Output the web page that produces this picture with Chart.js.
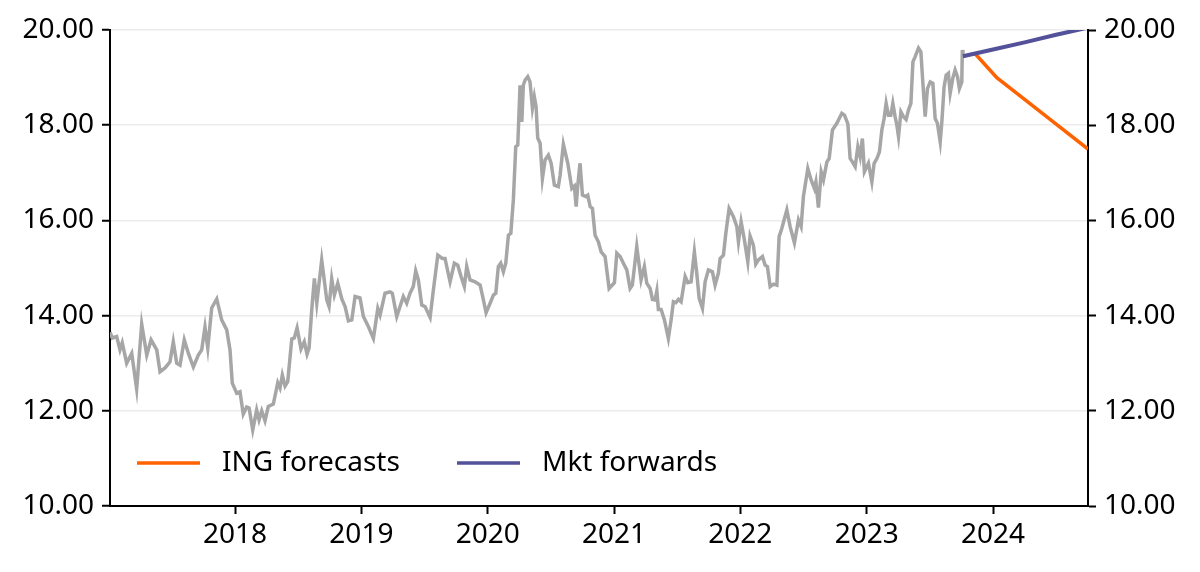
<!DOCTYPE html>
<html>
<head>
<meta charset="utf-8">
<script src="https://cdn.jsdelivr.net/npm/chart.js@4.4.1/dist/chart.umd.min.js"></script>
<style>
    html, body { margin: 0; padding: 0; background: #fff; }
    #wrap { width: 1200px; height: 572px; position: relative; }
</style>
</head>
<body>
<div id="wrap"><canvas id="myChart"></canvas></div>
<script>
// spot history, dates as decimal years
var spotDates = [
    2017.010, 2017.028, 2017.063, 2017.089, 2017.107, 2017.142, 2017.182, 2017.221, 2017.261, 2017.301,
    2017.335, 2017.380, 2017.406, 2017.446, 2017.485, 2017.511, 2017.538, 2017.564, 2017.598, 2017.630,
    2017.670, 2017.709, 2017.736, 2017.762, 2017.784, 2017.815, 2017.855, 2017.894, 2017.934, 2017.960,
    2017.978, 2018.013, 2018.039, 2018.065, 2018.092, 2018.111, 2018.140, 2018.171, 2018.190, 2018.211,
    2018.237, 2018.263, 2018.303, 2018.338, 2018.356, 2018.374, 2018.396, 2018.417, 2018.449, 2018.469,
    2018.491, 2018.522, 2018.548, 2018.570, 2018.586, 2018.607, 2018.628, 2018.647, 2018.686, 2018.726,
    2018.744, 2018.765, 2018.786, 2018.813, 2018.845, 2018.871, 2018.897, 2018.924, 2018.950, 2018.989,
    2019.016, 2019.055, 2019.095, 2019.130, 2019.148, 2019.187, 2019.227, 2019.245, 2019.280, 2019.306,
    2019.332, 2019.359, 2019.385, 2019.411, 2019.430, 2019.451, 2019.478, 2019.504, 2019.544, 2019.570,
    2019.605, 2019.641, 2019.662, 2019.702, 2019.736, 2019.763, 2019.789, 2019.815, 2019.834, 2019.860,
    2019.900, 2019.940, 2019.966, 2019.987, 2020.019, 2020.045, 2020.064, 2020.084, 2020.103, 2020.124,
    2020.143, 2020.164, 2020.183, 2020.203, 2020.222, 2020.238, 2020.256, 2020.270, 2020.282, 2020.296,
    2020.317, 2020.335, 2020.354, 2020.369, 2020.383, 2020.396, 2020.415, 2020.433, 2020.454, 2020.480,
    2020.502, 2020.528, 2020.559, 2020.573, 2020.599, 2020.634, 2020.666, 2020.686, 2020.700, 2020.713,
    2020.731, 2020.750, 2020.776, 2020.792, 2020.811, 2020.829, 2020.850, 2020.876, 2020.898, 2020.929,
    2020.961, 2021.003, 2021.022, 2021.048, 2021.074, 2021.101, 2021.127, 2021.145, 2021.180, 2021.214,
    2021.240, 2021.259, 2021.286, 2021.304, 2021.325, 2021.339, 2021.351, 2021.373, 2021.399, 2021.430,
    2021.452, 2021.470, 2021.489, 2021.510, 2021.531, 2021.563, 2021.584, 2021.610, 2021.636, 2021.655,
    2021.674, 2021.700, 2021.721, 2021.747, 2021.779, 2021.800, 2021.826, 2021.840, 2021.866, 2021.885,
    2021.911, 2021.945, 2021.972, 2021.985, 2022.006, 2022.032, 2022.059, 2022.077, 2022.103, 2022.122,
    2022.143, 2022.175, 2022.196, 2022.214, 2022.236, 2022.262, 2022.289, 2022.307, 2022.328, 2022.368,
    2022.394, 2022.428, 2022.460, 2022.481, 2022.499, 2022.534, 2022.560, 2022.586, 2022.598, 2022.618,
    2022.640, 2022.658, 2022.685, 2022.703, 2022.729, 2022.764, 2022.803, 2022.824, 2022.851, 2022.869,
    2022.887, 2022.909, 2022.930, 2022.948, 2022.966, 2022.982, 2023.014, 2023.041, 2023.059, 2023.081,
    2023.101, 2023.120, 2023.138, 2023.154, 2023.172, 2023.191, 2023.207, 2023.225, 2023.239, 2023.252,
    2023.271, 2023.291, 2023.312, 2023.331, 2023.350, 2023.366, 2023.384, 2023.410, 2023.429, 2023.445,
    2023.463, 2023.481, 2023.503, 2023.524, 2023.542, 2023.560, 2023.582, 2023.595, 2023.613, 2023.629,
    2023.647, 2023.661, 2023.682, 2023.700, 2023.719, 2023.734, 2023.753, 2023.757, 2023.762
];
var spotValues = [
    13.65, 13.53, 13.56, 13.28, 13.43, 13.00, 13.21, 12.46, 13.82, 13.17,
    13.49, 13.28, 12.82, 12.90, 13.03, 13.45, 13.00, 12.96, 13.49, 13.21,
    12.92, 13.17, 13.28, 13.76, 13.32, 14.16, 14.35, 13.91, 13.70, 13.28,
    12.58, 12.37, 12.40, 11.93, 12.08, 12.06, 11.60, 12.02, 11.81, 12.00,
    11.79, 12.09, 12.14, 12.59, 12.48, 12.75, 12.52, 12.61, 13.51, 13.53,
    13.74, 13.30, 13.45, 13.19, 13.32, 14.12, 14.78, 14.26, 15.17, 14.33,
    14.19, 14.77, 14.43, 14.68, 14.35, 14.19, 13.89, 13.91, 14.40, 14.37,
    13.98, 13.77, 13.52, 14.15, 14.01, 14.47, 14.50, 14.47, 13.98, 14.19,
    14.40, 14.26, 14.47, 14.61, 14.94, 14.75, 14.22, 14.19, 13.96, 14.54,
    15.27, 15.20, 15.20, 14.71, 15.10, 15.06, 14.82, 14.61, 15.03, 14.75,
    14.71, 14.64, 14.33, 14.06, 14.26, 14.43, 14.47, 15.03, 15.10, 14.92,
    15.10, 15.69, 15.73, 16.43, 17.55, 17.58, 18.84, 18.07, 18.84, 18.95,
    19.02, 18.91, 18.36, 18.60, 18.39, 17.73, 17.62, 16.88, 17.27, 17.37,
    17.20, 16.74, 16.71, 16.95, 17.60, 17.20, 16.67, 16.72, 16.29, 16.74,
    17.20, 16.53, 16.50, 16.53, 16.29, 16.25, 15.69, 15.55, 15.34, 15.24,
    14.57, 14.69, 15.31, 15.24, 15.10, 14.96, 14.57, 14.64, 15.45, 14.75,
    15.03, 14.68, 14.57, 14.34, 14.33, 14.52, 14.13, 14.13, 13.91, 13.52,
    13.91, 14.29, 14.27, 14.34, 14.29, 14.82, 14.69, 14.71, 15.34, 14.89,
    14.36, 14.15, 14.71, 14.96, 14.92, 14.64, 14.89, 15.20, 15.27, 15.73,
    16.25, 16.08, 15.87, 15.55, 15.97, 15.59, 15.13, 15.67, 15.48, 15.08,
    15.17, 15.24, 15.06, 15.03, 14.61, 14.66, 14.64, 15.66, 15.83, 16.22,
    15.87, 15.53, 16.01, 15.87, 16.50, 17.09, 16.85, 16.67, 16.81, 16.27,
    17.02, 16.85, 17.23, 17.30, 17.90, 18.04, 18.25, 18.21, 18.03, 17.30,
    17.23, 17.13, 17.55, 17.34, 17.72, 17.02, 17.20, 16.81, 17.20, 17.30,
    17.44, 17.90, 18.14, 18.46, 18.21, 18.21, 18.46, 18.18, 18.00, 17.76,
    18.28, 18.18, 18.12, 18.32, 18.46, 19.33, 19.44, 19.62, 19.54, 18.88,
    18.18, 18.77, 18.91, 18.88, 18.14, 18.04, 17.65, 18.07, 18.81, 19.05,
    19.09, 18.67, 18.99, 19.16, 19.02, 18.77, 18.91, 19.58, 19.45
];

// ING forecasts
var ingDates = [2023.859, 2024.030, 2024.270, 2024.510, 2024.752];
var ingValues = [19.50, 19.00, 18.50, 18.00, 17.50];

// market forwards
var fwdDates = [2023.762, 2024.000, 2024.250, 2024.500, 2024.752];
var fwdValues = [19.45, 19.59, 19.74, 19.90, 20.05];

var yearTicks = [2018, 2019, 2020, 2021, 2022, 2023, 2024];
var valueTicks = [10, 12, 14, 16, 18, 20];

function toPoints(xs, ys) {
    return xs.map(function (x, i) { return { x: x, y: ys[i] }; });
}

var tickFont = { family: "'Noto Sans'", size: 28 };

var insideLegend = {
    id: 'insideLegend',
    afterDatasetsDraw: function (chart) {
        var ctx = chart.ctx;
        var area = chart.chartArea;
        var y = area.bottom - 43;
        var starts = [area.left + 27, area.left + 347];
        var shown = [chart.data.datasets[1], chart.data.datasets[2]];
        ctx.save();
        ctx.font = "28px 'Noto Sans'";
        ctx.textBaseline = 'middle';
        ctx.fillStyle = '#000';
        shown.forEach(function (ds, i) {
            ctx.strokeStyle = ds.borderColor;
            ctx.lineWidth = 3.5;
            ctx.beginPath();
            ctx.moveTo(starts[i], y);
            ctx.lineTo(starts[i] + 63, y);
            ctx.stroke();
            ctx.fillText(ds.label, starts[i] + 85, y);
        });
        ctx.restore();
    }
};

var ctx = document.getElementById('myChart').getContext('2d');
var chart = new Chart(ctx, {
    type: 'line',
    data: {
        datasets: [
            {
                label: 'Spot',
                data: toPoints(spotDates, spotValues),
                borderColor: '#a6a6a6',
                borderWidth: 3.5,
                order: 3
            },
            {
                label: 'ING forecasts',
                data: toPoints(ingDates, ingValues),
                borderColor: '#ff6200',
                borderWidth: 3.5,
                order: 2
            },
            {
                label: 'Mkt forwards',
                data: toPoints(fwdDates, fwdValues),
                borderColor: '#525199',
                borderWidth: 4,
                order: 1
            }
        ]
    },
    options: {
        responsive: true,
        maintainAspectRatio: false,
        animation: false,
        elements: {
            point: { radius: 0 },
            line: { tension: 0 }
        },
        layout: { padding: { top: 30, left: 0, right: 0, bottom: 0 } },
        scales: {
            x: {
                type: 'linear',
                min: 2017.01,
                max: 2024.752,
                afterBuildTicks: function (scale) {
                    scale.ticks = yearTicks.map(function (v) { return { value: v }; });
                },
                afterFit: function (scale) { scale.height = 66; },
                ticks: {
                    color: '#000',
                    font: tickFont,
                    padding: 4,
                    maxRotation: 0,
                    autoSkip: false,
                    callback: function (v) { return String(v); }
                },
                grid: {
                    drawOnChartArea: false,
                    tickColor: '#000',
                    tickLength: 8,
                    tickWidth: 2
                },
                border: { color: '#000', width: 2 }
            },
            y: {
                position: 'left',
                min: 10,
                max: 20,
                afterBuildTicks: function (scale) {
                    scale.ticks = valueTicks.map(function (v) { return { value: v }; });
                },
                afterFit: function (scale) { scale.width = 110; },
                ticks: {
                    color: '#000',
                    font: tickFont,
                    padding: 8,
                    callback: function (v) { return v.toFixed(2); }
                },
                grid: {
                    color: '#ececec',
                    lineWidth: 1.5,
                    tickColor: '#000',
                    tickLength: 8,
                    tickWidth: 2
                },
                border: { color: '#000', width: 2 }
            },
            y2: {
                position: 'right',
                min: 10,
                max: 20,
                afterBuildTicks: function (scale) {
                    scale.ticks = valueTicks.map(function (v) { return { value: v }; });
                },
                afterFit: function (scale) { scale.width = 112; },
                ticks: {
                    color: '#000',
                    font: tickFont,
                    padding: 8,
                    callback: function (v) { return v.toFixed(2); }
                },
                grid: {
                    drawOnChartArea: false,
                    tickColor: '#000',
                    tickLength: 8,
                    tickWidth: 2
                },
                border: { color: '#000', width: 2 }
            }
        },
        plugins: {
            legend: { display: false },
            tooltip: { enabled: false }
        }
    },
    plugins: [insideLegend]
});
</script>
</body>
</html>
